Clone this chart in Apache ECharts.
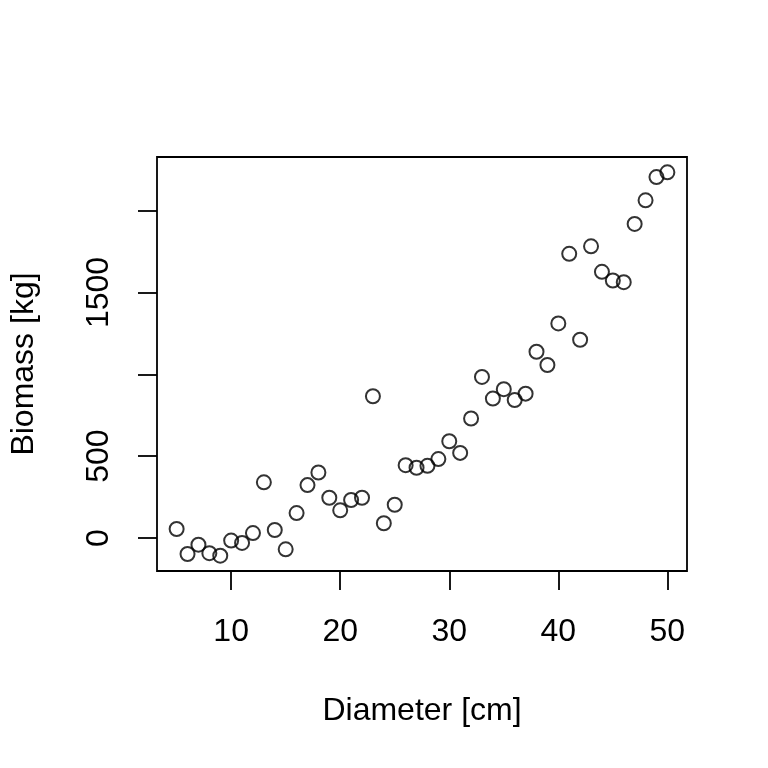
<!DOCTYPE html>
<html>
<head>
<meta charset="utf-8">
<script src="https://cdn.jsdelivr.net/npm/echarts@6/dist/echarts.min.js"></script>
<style>
  html, body { margin: 0; padding: 0; background: #fff; }
  #chart { width: 768px; height: 768px; }
</style>
</head>
<body>
<div id="chart"></div>
<script>
// diameter in cm
const diameter = [5, 6, 7, 8, 9, 10, 11, 12, 13, 14, 15, 16, 17, 18, 19, 20, 21, 22, 23, 24, 25,
  26, 27, 28, 29, 30, 31, 32, 33, 34, 35, 36, 37, 38, 39, 40, 41, 42, 43, 44, 45, 46, 47, 48, 49, 50];
// biomass in kg
const biomass = [55, -98, -41, -93, -108, -16, -30, 30, 340, 49, -69, 152, 323, 400, 246, 169, 232, 246, 866, 90, 203,
  445, 429, 441, 482, 591, 520, 730, 984, 852, 909, 843, 882, 1138, 1057, 1311, 1736, 1211, 1782, 1626, 1573, 1563, 1919, 2063, 2205, 2234];
const xTicks = [10, 20, 30, 40, 50];
const yTicks = [0, 500, 1000, 1500, 2000];
const yLabels = [0, 500, 1500]; // R drops 1000 and 2000, they overlap

// R style 4% range extension
function extend(arr) {
  const lo = Math.min(...arr), hi = Math.max(...arr);
  const d = (hi - lo) * 0.04;
  return [lo - d, hi + d];
}
const xr = extend(diameter);
const yr = extend(biomass);

const font = "Liberation Sans, Arial, Helvetica, sans-serif";
const myChart = echarts.init(document.getElementById("chart"));
const option = {
  backgroundColor: "#fff",
  animation: false,
  grid: {
    left: 157,
    right: 81,
    top: 157,
    bottom: 197,
    show: true,
    borderColor: "#000",
    borderWidth: 1.8,
    backgroundColor: "transparent",
  },
  xAxis: {
    type: "value",
    min: xr[0],
    max: xr[1],
    name: "Diameter [cm]",
    nameLocation: "middle",
    nameGap: 124,
    nameTextStyle: { color: "#000", fontSize: 32, fontFamily: font },
    axisLine: { show: false, onZero: false },
    splitLine: { show: false },
    axisTick: {
      show: true,
      length: 19,
      customValues: xTicks,
      lineStyle: { color: "#000", width: 1.8 },
    },
    axisLabel: {
      customValues: xTicks,
      margin: 45,
      color: "#000",
      fontSize: 32,
      fontFamily: font,
      formatter: (v) => String(v),
    },
  },
  yAxis: {
    type: "value",
    min: yr[0],
    max: yr[1],
    name: "Biomass [kg]",
    nameLocation: "middle",
    nameRotate: 90,
    nameGap: 117,
    nameTextStyle: { color: "#000", fontSize: 32, fontFamily: font },
    axisLine: { show: false, onZero: false },
    splitLine: { show: false },
    axisTick: {
      show: true,
      length: 19,
      customValues: yTicks,
      lineStyle: { color: "#000", width: 1.8 },
    },
    axisLabel: {
      customValues: yLabels,
      rotate: 90,
      margin: 42,
      color: "#000",
      fontSize: 32,
      fontFamily: font,
      formatter: (v) => String(v),
    },
  },
  series: [
    {
      type: "scatter",
      data: diameter.map((d, i) => [d, biomass[i]]),
      symbol: "circle",
      symbolSize: 14,
      itemStyle: {
        color: "transparent",
        borderColor: "#000",
        borderWidth: 2,
      },
    },
  ],
};
myChart.setOption(option);
</script>
</body>
</html>
